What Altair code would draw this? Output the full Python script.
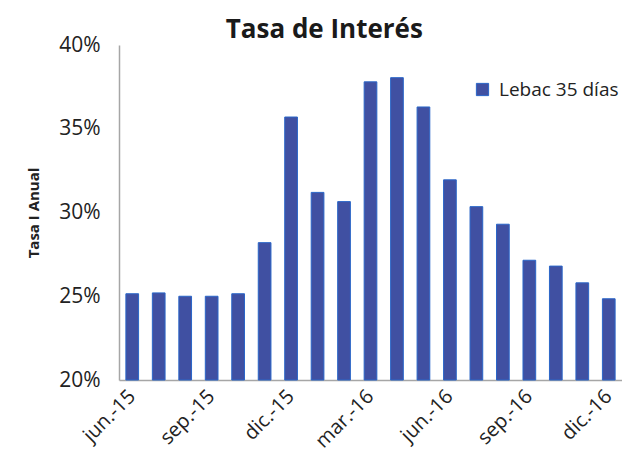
import altair as alt
import pandas as pd

meses = ["jun.-15", "jul.-15", "ago.-15", "sep.-15", "oct.-15", "nov.-15", "dic.-15",
         "ene.-16", "feb.-16", "mar.-16", "abr.-16", "may.-16", "jun.-16", "jul.-16",
         "ago.-16", "sep.-16", "oct.-16", "nov.-16", "dic.-16"]
tasas = [25.15, 25.2, 25.0, 25.0, 25.15, 28.2, 35.7, 31.2, 30.65, 37.8, 38.05, 36.3,
         31.95, 30.35, 29.3, 27.15, 26.8, 25.8, 24.85]
etiquetas = ["jun.-15", "sep.-15", "dic.-15", "mar.-16", "jun.-16", "sep.-16", "dic.-16"]
serie = "Lebac 35 días"

df = pd.DataFrame({"mes": meses, "tasa": tasas, "serie": [serie] * len(meses)})

FONT = "Open Sans"

chart = alt.Chart(df).mark_bar(
    fill="#4050A2", stroke="#2A66C8", strokeWidth=1
).encode(
    x=alt.X("mes:N", sort=meses,
            scale=alt.Scale(paddingInner=0.52, paddingOuter=0.26),
            axis=alt.Axis(title=None, values=etiquetas, labelAngle=-45, labelAlign="right",
                          labelBaseline="middle", labelFontSize=20, labelColor="#222222",
                          labelFont=FONT, ticks=False, domainColor="#A6A6A6",
                          domainWidth=1.5, labelPadding=13, labelOverlap=False,
                          labelBound=False)),
    y=alt.Y("tasa:Q", scale=alt.Scale(domain=[20, 40], zero=False),
            axis=alt.Axis(title="Tasa I Anual", values=[20, 25, 30, 35, 40],
                          labelExpr="datum.value + '%'", labelFontSize=21,
                          labelColor="#222222", labelFont=FONT, ticks=False, grid=False,
                          domainColor="#A6A6A6", domainWidth=1.5, labelPadding=19,
                          titleFont=FONT, titleFontSize=15, titleFontWeight="bold",
                          titleColor="#222222", titlePadding=17)),
    y2=alt.datum(20),
    color=alt.Color("serie:N", scale=alt.Scale(range=["#4050A2"]),
                    legend=alt.Legend(title=None, orient="none", legendX=354, legendY=35,
                                      symbolType="square", symbolSize=150,
                                      symbolStrokeColor="#2A66C8", symbolStrokeWidth=1,
                                      labelFontSize=19, labelFont=FONT, labelOffset=7,
                                      labelColor="#222222", labelLimit=300, padding=0))
).properties(
    width=614,
    height=444,
    autosize=alt.AutoSizeParams(type="fit", contains="padding"),
    padding={"left": 18, "top": 9, "right": 0, "bottom": 0},
    title=alt.TitleParams("Tasa de Interés", fontSize=26, font=FONT, fontWeight="bold",
                          color="#1a1a1a", anchor="middle", frame="bounds", offset=-9)
).configure_view(stroke=None)

chart.save("out.html", embed_options={"renderer": "svg", "actions": False})
